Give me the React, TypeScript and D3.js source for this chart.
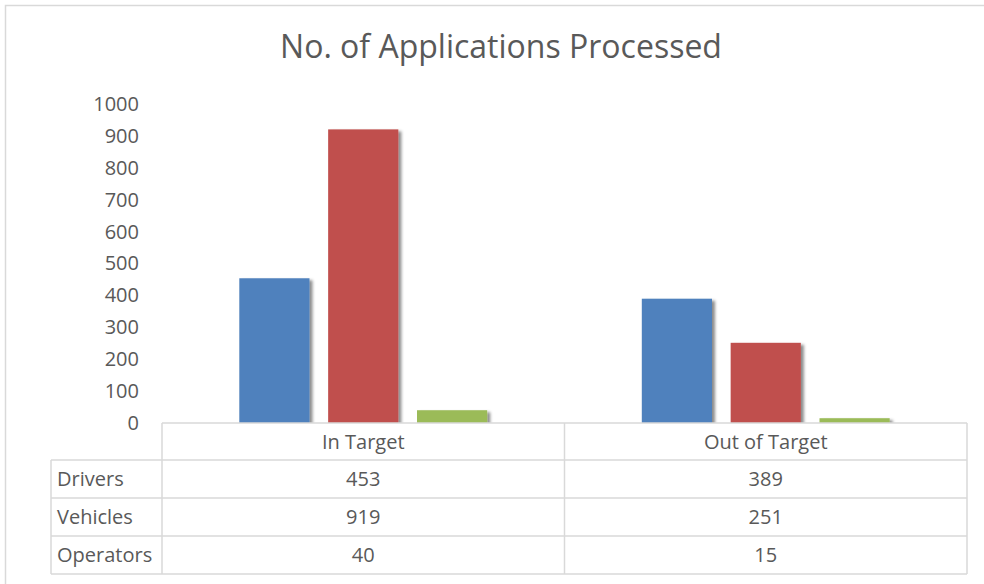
import React, { Component } from "react";
import * as d3 from "d3";

const categories = ["In Target", "Out of Target"];
const seriesNames = ["Drivers", "Vehicles", "Operators"];
const drivers = [453, 389];
const vehicles = [919, 251];
const operators = [40, 15];
const yTickValues = [0, 100, 200, 300, 400, 500, 600, 700, 800, 900, 1000];

const colors = ["#4F81BD", "#C0504D", "#9BBB59"];
const textColor = "#595959";
const lineColor = "#d9d9d9";
const font = "'Open Sans', sans-serif";

class App extends Component {
  svgRef = React.createRef<SVGSVGElement>();

  componentDidMount() {
    const svg = d3.select(this.svgRef.current);
    svg.selectAll("*").remove();

    const series = [drivers, vehicles, operators];

    // chart frame
    svg.append("rect").attr("x", 5.5).attr("y", 5.5).attr("width", 1000).attr("height", 600)
      .attr("fill", "white").attr("stroke", lineColor).attr("stroke-width", 1.5);

    // title
    svg.append("text").attr("x", 501).attr("y", 58).attr("text-anchor", "middle")
      .style("font-family", font).style("font-size", "32px").attr("fill", textColor)
      .text("No. of Applications Processed");

    const xScale = d3.scaleBand().domain(categories).range([162, 967]);
    const xInner = d3.scaleBand().domain(seriesNames).range([0, xScale.bandwidth()])
      .paddingInner(0.21).paddingOuter(0.87);
    const yScale = d3.scaleLinear().domain([0, 1000]).range([423, 103.5]);

    // y axis labels
    svg.append("g").selectAll("text").data(yTickValues).join("text")
      .attr("x", 139).attr("y", d => yScale(d)).attr("dy", "0.36em")
      .attr("text-anchor", "end").style("font-family", font).style("font-size", "20px")
      .attr("fill", textColor).text(d => d);

    // shadow filter
    const defs = svg.append("defs");
    defs.append("filter").attr("id", "barShadow").attr("x", "-20%").attr("y", "-20%")
      .attr("width", "150%").attr("height", "150%")
      .append("feDropShadow").attr("dx", 3).attr("dy", 2).attr("stdDeviation", 1.8)
      .attr("flood-color", "#000").attr("flood-opacity", 0.45);
    defs.append("clipPath").attr("id", "plotClip").append("rect")
      .attr("x", 0).attr("y", 0).attr("width", 984).attr("height", yScale(0));

    // bars
    const bars = svg.append("g").attr("clip-path", "url(#plotClip)");
    series.forEach((vals, si) => {
      bars.append("g").attr("fill", colors[si]).selectAll("rect").data(vals).join("rect")
        .attr("x", (d, i) => xScale(categories[i])! + xInner(seriesNames[si])!)
        .attr("y", d => yScale(d))
        .attr("width", xInner.bandwidth())
        .attr("height", d => yScale(0) - yScale(d))
        .attr("filter", "url(#barShadow)");
    });

    // data table
    const rowTops = [423, 460, 498, 536, 574];
    const tableLeft = 51;
    const table = svg.append("g").attr("stroke", lineColor).attr("stroke-width", 1.5).attr("fill", "none");
    // header row top line
    table.append("line").attr("x1", 162).attr("x2", 967).attr("y1", rowTops[0]).attr("y2", rowTops[0]);
    // other horizontal lines
    rowTops.slice(1).forEach(y => {
      table.append("line").attr("x1", tableLeft).attr("x2", 967).attr("y1", y).attr("y2", y);
    });
    // vertical lines
    table.append("line").attr("x1", tableLeft).attr("x2", tableLeft).attr("y1", rowTops[1]).attr("y2", rowTops[4]);
    [162, 564.5, 967].forEach(x => {
      table.append("line").attr("x1", x).attr("x2", x).attr("y1", rowTops[0]).attr("y2", rowTops[4]);
    });

    const txt = svg.append("g").style("font-family", font).style("font-size", "20px").attr("fill", textColor);
    // category headers
    txt.selectAll(".cat").data(categories).join("text").attr("class", "cat")
      .attr("x", d => xScale(d)! + xScale.bandwidth() / 2).attr("y", (rowTops[0] + rowTops[1]) / 2)
      .attr("dy", "0.36em").attr("text-anchor", "middle").text(d => d);
    // series rows
    series.forEach((vals, si) => {
      const yMid = (rowTops[si + 1] + rowTops[si + 2]) / 2;
      txt.append("text").attr("x", 57).attr("y", yMid).attr("dy", "0.36em").text(seriesNames[si]);
      txt.append("g").selectAll("text").data(vals).join("text")
        .attr("x", (d, i) => xScale(categories[i])! + xScale.bandwidth() / 2).attr("y", yMid)
        .attr("dy", "0.36em").attr("text-anchor", "middle").text(d => d);
    });
  }

  render() {
    return (
      <svg ref={this.svgRef} width={984} height={584}
        style={{ position: "absolute", left: 0, top: 0, display: "block" }}></svg>
    );
  }
}

export default App;
